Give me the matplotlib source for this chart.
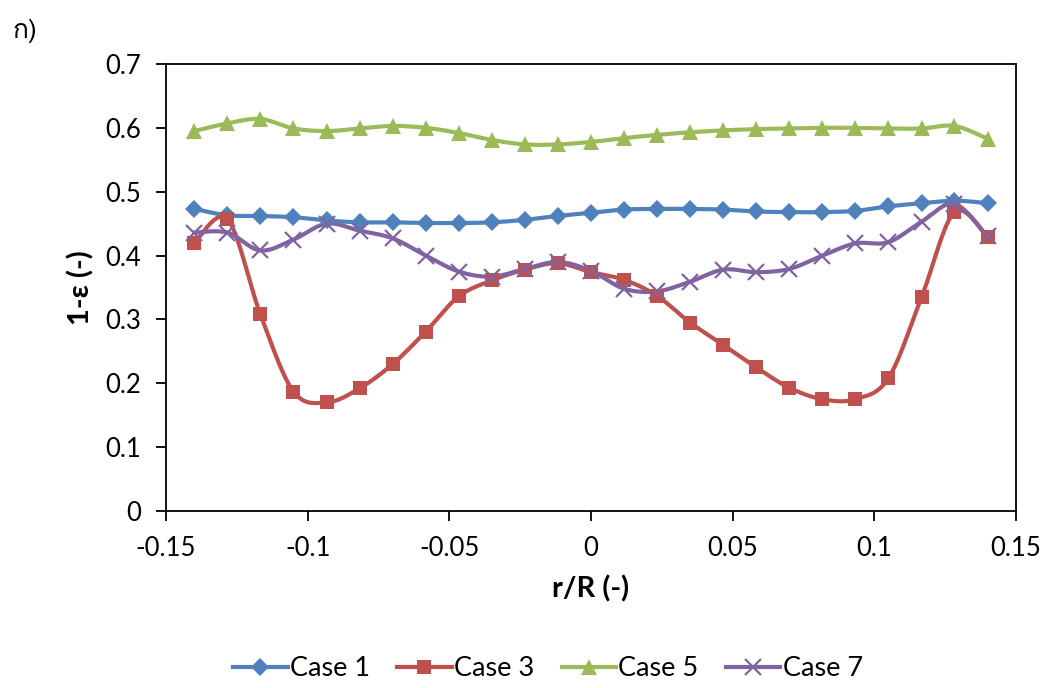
import matplotlib
matplotlib.use("Agg")
import matplotlib.pyplot as plt
import numpy as np
from matplotlib import font_manager
from matplotlib.ft2font import FT2Font

# r/R positions (25 points from -0.14 to 0.14)
r_pos = [-0.14, -0.1283, -0.1167, -0.105, -0.0933, -0.0817, -0.07, -0.0583, -0.0467, -0.035,
         -0.0233, -0.0117, 0.0, 0.0117, 0.0233, 0.035, 0.0467, 0.0583, 0.07, 0.0817,
         0.0933, 0.105, 0.1167, 0.1283, 0.14]

case1 = [0.473, 0.463, 0.462, 0.460, 0.455, 0.452, 0.452, 0.451, 0.451, 0.452, 0.456, 0.462, 0.467,
         0.472, 0.473, 0.473, 0.472, 0.469, 0.468, 0.468, 0.470, 0.477, 0.482, 0.486, 0.482]
case3 = [0.420, 0.457, 0.308, 0.187, 0.170, 0.192, 0.230, 0.281, 0.336, 0.361, 0.378, 0.388, 0.374,
         0.362, 0.337, 0.295, 0.260, 0.225, 0.193, 0.175, 0.175, 0.208, 0.335, 0.468, 0.429]
case5 = [0.595, 0.607, 0.614, 0.599, 0.595, 0.599, 0.603, 0.600, 0.592, 0.581, 0.574, 0.574, 0.578,
         0.584, 0.589, 0.593, 0.596, 0.598, 0.599, 0.600, 0.600, 0.599, 0.599, 0.603, 0.583]
case7 = [0.436, 0.436, 0.408, 0.425, 0.450, 0.439, 0.427, 0.400, 0.375, 0.367, 0.379, 0.390, 0.376,
         0.348, 0.344, 0.359, 0.378, 0.374, 0.379, 0.400, 0.419, 0.421, 0.453, 0.481, 0.430]

labels = ["Case 1", "Case 3", "Case 5", "Case 7"]
colors = ["#4F81BD", "#C0504D", "#9BBB59", "#8064A2"]
markers = ["D", "s", "^", "x"]


def smooth(x, y, n=20):
    # Excel-style smoothed line (Catmull-Rom Bezier)
    x = np.asarray(x, float)
    y = np.asarray(y, float)
    xs, ys = [], []
    t = np.linspace(0, 1, n, endpoint=False)
    for i in range(len(x) - 1):
        p0 = np.array([x[max(i - 1, 0)], y[max(i - 1, 0)]])
        p1 = np.array([x[i], y[i]])
        p2 = np.array([x[i + 1], y[i + 1]])
        p3 = np.array([x[min(i + 2, len(x) - 1)], y[min(i + 2, len(x) - 1)]])
        c1 = p1 + (p2 - p0) / 6
        c2 = p2 - (p3 - p1) / 6
        pts = ((1 - t) ** 3)[:, None] * p1 + (3 * (1 - t) ** 2 * t)[:, None] * c1 \
            + (3 * (1 - t) * t ** 2)[:, None] * c2 + (t ** 3)[:, None] * p2
        xs.extend(pts[:, 0])
        ys.extend(pts[:, 1])
    xs.append(x[-1])
    ys.append(y[-1])
    return xs, ys


def thai_font():
    for f in font_manager.fontManager.ttflist:
        try:
            if 0x0E01 in FT2Font(f.fname).get_charmap():
                return f.name
        except Exception:
            pass
    return "DejaVu Sans"


plt.rcParams["font.family"] = ["Lato", "DejaVu Sans"]

fig = plt.figure(figsize=(10.48, 6.88), dpi=100)
ax = fig.add_axes([0.1584, 0.2573, 0.811, 0.6497])

for ys, lab, c, m in zip([case1, case3, case5, case7], labels, colors, markers):
    sx, sy = smooth(r_pos, ys)
    ax.plot(sx, sy, color=c, lw=3, zorder=2)
    if m == "x":
        kw = dict(markersize=11, markeredgewidth=1.6)
    elif m == "D":
        kw = dict(markersize=9, markeredgewidth=0)
    elif m == "^":
        kw = dict(markersize=11, markeredgewidth=0)
    else:
        kw = dict(markersize=10, markeredgewidth=0)
    ax.plot(r_pos, ys, linestyle="none", marker=m, color=c, zorder=3, **kw)
    ax.plot([], [], color=c, lw=3, marker=m, label=lab, **kw)

ax.set_xlim(-0.15, 0.15)
ax.set_ylim(0, 0.7)
ax.set_xticks([-0.15, -0.1, -0.05, 0, 0.05, 0.1, 0.15])
ax.set_xticklabels(["-0.15", "-0.1", "-0.05", "0", "0.05", "0.1", "0.15"])
ax.set_yticks(np.arange(0, 0.71, 0.1))
ax.set_yticklabels(["0", "0.1", "0.2", "0.3", "0.4", "0.5", "0.6", "0.7"])
ax.tick_params(direction="out", length=7, width=1.3, labelsize=18.5)
ax.tick_params(axis="x", pad=11)
ax.tick_params(axis="y", pad=11)
for s in ax.spines.values():
    s.set_linewidth(1.3)

ax.set_xlabel("r/R (-)", fontsize=21, fontweight="bold", labelpad=10)
ax.set_ylabel("1-ε (-)", fontsize=21, fontweight="bold", labelpad=8)

fig.text(0.012, 0.945, "ก)", fontsize=19, family=[thai_font(), "DejaVu Sans"])

fig.legend(loc="center", bbox_to_anchor=(0.523, 0.028), ncol=4, frameon=False,
           fontsize=19.5, handlelength=2.0, columnspacing=1.0, handletextpad=0.1)

fig.savefig("out.png", dpi=100)
